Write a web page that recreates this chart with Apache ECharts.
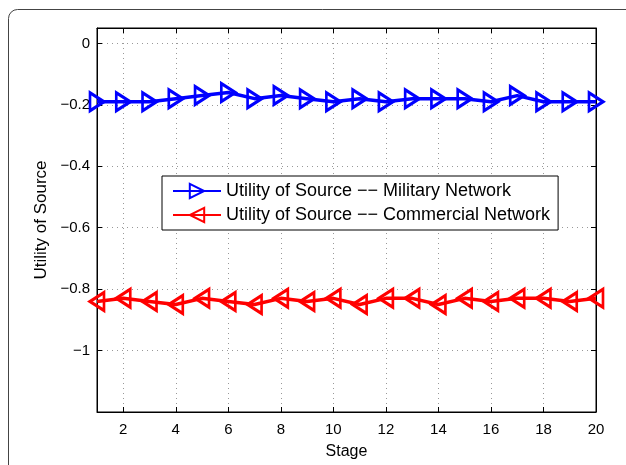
<!DOCTYPE html>
<html>
<head>
<meta charset="utf-8">
<script src="https://cdn.jsdelivr.net/npm/echarts@6/dist/echarts.min.js"></script>
<style>html,body{margin:0;padding:0;background:#fff;}#c{width:626px;height:465px;}</style>
</head>
<body>
<div id="c"></div>
<script>
const stages = [1,2,3,4,5,6,7,8,9,10,11,12,13,14,15,16,17,18,19,20];
const military = [-0.19,-0.19,-0.19,-0.18,-0.17,-0.16,-0.18,-0.17,-0.18,-0.19,-0.18,-0.19,-0.18,-0.18,-0.18,-0.19,-0.17,-0.19,-0.19,-0.19];
const commercial = [-0.84,-0.83,-0.84,-0.85,-0.83,-0.84,-0.85,-0.83,-0.84,-0.83,-0.85,-0.83,-0.83,-0.85,-0.83,-0.84,-0.83,-0.83,-0.84,-0.83];
const xTicks = [2,4,6,8,10,12,14,16,18,20];
const yTicks = [0,-0.2,-0.4,-0.6,-0.8,-1];
const seriesNames = ['Utility of Source \u2212\u2212 Military Network','Utility of Source \u2212\u2212 Commercial Network'];

const FONT = 'Liberation Sans, Arial, Helvetica, sans-serif';
const rightTri = 'path://M0,0 L10,5 L0,10 Z';
const leftTri = 'path://M10,0 L0,5 L10,10 Z';
const fmtY = v => { const r = Math.round(v*10)/10; if (!yTicks.some(t => Math.abs(t - v) < 1e-6)) return ''; return r === 0 ? '0' : String(r).replace('-', '\u2212'); };

const tickAxisX = (pos) => ({
  type: 'value', min: 1, max: 20, position: pos,
  axisLine: {show: true, onZero: false, lineStyle: {color: '#000', width: 1}},
  axisTick: {show: true, inside: true, length: 5, lineStyle: {color: '#000'}, customValues: xTicks},
  axisLabel: {show: false}, splitLine: {show: false}
});

const chart = echarts.init(document.getElementById('c'), null, {renderer:'canvas'});
chart.setOption({
  backgroundColor: '#fff',
  animation: false,
  graphic: [{
    type: 'rect', shape: {x: 8.5, y: 9.5, width: 700, height: 600, r: 9},
    style: {fill: 'none', stroke: '#444', lineWidth: 1}, silent: true, z: -10
  }],
  grid: {left: 97, top: 28, right: 30, bottom: 43, show: true, borderColor: '#000', borderWidth: 1, backgroundColor: '#fff'},
  legend: {
    orient: 'vertical', left: 162, top: 176,
    backgroundColor: '#fff', borderColor: '#000', borderWidth: 1, borderRadius: 0,
    padding: [6, 8, 6, 10], itemGap: 6, itemWidth: 48, itemHeight: 18,
    textStyle: {fontFamily: FONT, fontSize: 18, color: '#000'},
    data: seriesNames
  },
  xAxis: [{
    type: 'value', min: 1, max: 20, position: 'bottom',
    name: 'Stage', nameLocation: 'middle', nameGap: 32,
    nameTextStyle: {fontFamily: FONT, fontSize: 16, color: '#000'},
    axisLine: {show: true, onZero: false, lineStyle: {color: '#000', width: 1}},
    axisTick: {show: true, inside: true, length: 5, lineStyle: {color: '#000'}, customValues: xTicks},
    axisLabel: {fontFamily: FONT, fontSize: 15, color: '#000', margin: 10, customValues: xTicks},
    splitLine: {show: true, lineStyle: {color: '#999', type: [1, 4], width: 1}}
  }, tickAxisX('top')],
  yAxis: [{
    type: 'value', min: -1.2, max: 0.05, interval: 0.2, position: 'left',
    name: 'Utility of Source', nameLocation: 'middle', nameGap: 46,
    nameTextStyle: {fontFamily: FONT, fontSize: 17, color: '#000'},
    axisLine: {show: true, onZero: false, lineStyle: {color: '#000', width: 1}},
    axisTick: {show: true, inside: true, length: 5, lineStyle: {color: '#000'}},
    axisLabel: {fontFamily: FONT, fontSize: 15, color: '#000', margin: 7, showMaxLabel: false, formatter: fmtY},
    splitLine: {show: true, lineStyle: {color: '#999', type: [1, 4], width: 1}}
  }, {
    type: 'value', min: -1.2, max: 0.05, interval: 0.2, position: 'right',
    axisLine: {show: true, onZero: false, lineStyle: {color: '#000', width: 1}},
    axisTick: {show: true, inside: true, length: 5, lineStyle: {color: '#000'}},
    axisLabel: {show: false}, splitLine: {show: false}
  }],
  series: [{
    name: seriesNames[0], type: 'line', xAxisIndex: 0, yAxisIndex: 0,
    data: stages.map((s, i) => [s, military[i]]),
    symbol: rightTri, symbolSize: [14, 18], showAllSymbol: true,
    lineStyle: {color: '#0000ff', width: 3.5},
    itemStyle: {color: 'rgba(255,255,255,0)', borderColor: '#0000ff', borderWidth: 3},
    clip: false, z: 3
  }, {
    name: seriesNames[1], type: 'line', xAxisIndex: 0, yAxisIndex: 0,
    data: stages.map((s, i) => [s, commercial[i]]),
    symbol: leftTri, symbolSize: [14, 18], showAllSymbol: true,
    lineStyle: {color: '#ff0000', width: 3.5},
    itemStyle: {color: 'rgba(255,255,255,0)', borderColor: '#ff0000', borderWidth: 3},
    clip: false, z: 3
  }]
});
</script>
</body>
</html>
